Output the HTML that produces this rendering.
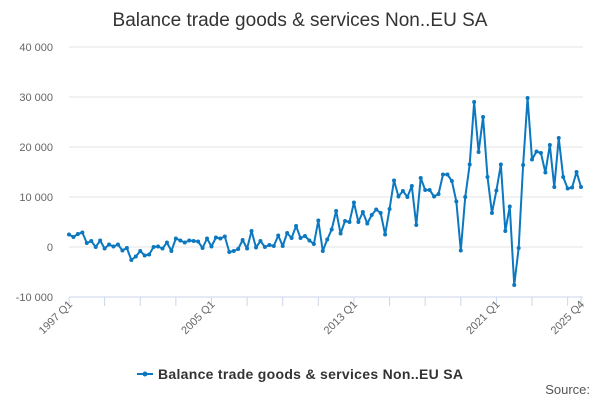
<!DOCTYPE html>
<html><head><meta charset="utf-8"><style>
body{margin:0;background:#fff;font-family:"Liberation Sans",sans-serif}
svg{display:block}
</style></head><body>
<svg id="chart" width="600" height="400">
<text x="300" y="26" text-anchor="middle" font-size="19" fill="#333">Balance trade goods &amp; services Non..EU SA</text>
<g id="grid"></g><g id="xaxis"></g><g id="series"></g>
<g>
<line x1="137" y1="374" x2="153" y2="374" stroke="#0b78c0" stroke-width="2"/>
<circle cx="145" cy="374" r="2.5" fill="#0b78c0"/>
<text x="158" y="379" font-size="14" font-weight="bold" fill="#333" textLength="305">Balance trade goods &amp; services Non..EU SA</text>
</g>
<text x="590" y="394" text-anchor="end" font-size="13" fill="#555">Source:</text>
</svg>
<script>
const yTicks=[40000,30000,20000,10000,0,-10000];
const yTickLabels=["40 000","30 000","20 000","10 000","0","-10 000"];
const xLabels=["1997 Q1","2005 Q1","2013 Q1","2021 Q1","2025 Q4"];
const xLabelIdx=[0,32,64,96,115];
const values=[2500,2000,2600,2900,800,1200,0,1300,-300,500,100,500,-700,-200,-2600,-1900,
-800,-1700,-1500,0,100,-300,900,-800,1700,1300,900,1300,1200,1100,-200,1700,
100,1900,1700,2100,-1000,-800,-400,1400,-300,3200,-100,1200,0,400,200,2300,
200,2800,1800,4200,1800,2200,1300,600,5300,-800,1500,3500,7200,2700,5200,5000,
8900,5000,7000,4700,6400,7500,6800,2500,7600,13300,10100,11200,10000,12200,4400,13800,
11400,11400,10100,10600,14500,14500,13200,9100,-700,10000,16500,29000,19000,26000,14000,6800,
11300,16500,3200,8100,-7600,-200,16400,29800,17500,19100,18800,14900,20400,12000,21800,14000,
11700,11900,15000,12000];
const ns="http://www.w3.org/2000/svg";
const X0=69,X1=581,Y0=247,PX=0.005;
const xs=i=>X0+(X1-X0)*i/(values.length-1);
const ys=v=>Y0-v*PX;
function mk(t,a,p){const e=document.createElementNS(ns,t);for(const k in a)e.setAttribute(k,a[k]);p.appendChild(e);return e;}
const grid=document.getElementById('grid');
yTicks.forEach((v,i)=>{
 const l=mk('line',{x1:X0,x2:583,y1:ys(v),y2:ys(v),stroke:(v===-10000?'#ccd6eb':'#e3e3e3')},grid);
 
 
 const t=mk('text',{x:53,y:ys(v)+4,'text-anchor':'end','font-size':11,fill:'#666'},grid);
 t.textContent=yTickLabels[i];
 
 
});
const xa=document.getElementById('xaxis');
const ticks=[];for(let i=0;i<values.length;i+=8)ticks.push(i);ticks.push(115);
ticks.forEach(i=>{const l=mk('line',{x1:xs(i),x2:xs(i),y1:297,y2:306,stroke:'#ccd6eb'},xa);
 
 });
xLabels.forEach((s,k)=>{const x=xs(xLabelIdx[k]);
 const t=mk('text',{x:x+4,y:305,'text-anchor':'end','font-size':11,fill:'#666',transform:`rotate(-45 ${x+4} 305)`},xa);
 t.textContent=s;
 
 });
const g=document.getElementById('series');
const path=mk('polyline',{points:values.map((v,i)=>xs(i)+','+ys(v)).join(' '),fill:'none',stroke:'#0b78c0','stroke-width':2,'stroke-linejoin':'round'},g);


values.forEach((v,i)=>{const c=mk('circle',{cx:xs(i),cy:ys(v),r:2,fill:'#0b78c0'},g);
 
 });
</script>
</body></html>
